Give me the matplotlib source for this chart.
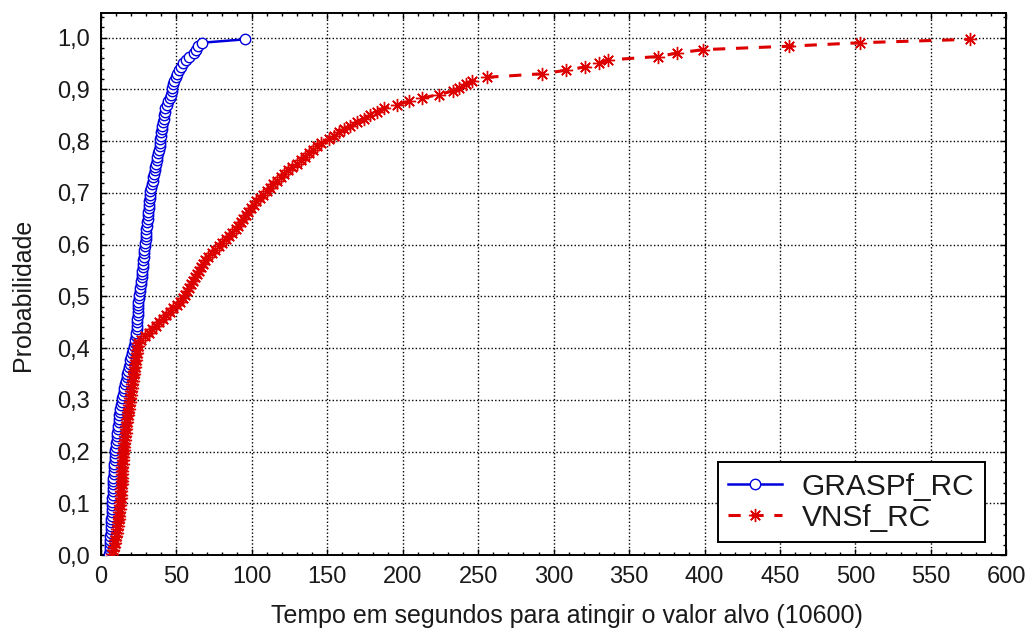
import matplotlib
matplotlib.use("Agg")
import matplotlib.pyplot as plt
import numpy as np

# ---- data (times in seconds, sorted; empirical distribution) ----
grasp_times = [
    5.5, 5.7, 5.8, 6.0, 6.1, 6.2, 6.4, 6.5, 6.6, 6.8,
    6.9, 7.0, 7.1, 7.2, 7.3, 7.4, 7.5, 7.6, 7.7, 7.8,
    7.9, 8.0, 8.2, 8.4, 8.5, 8.7, 8.9, 9.0, 9.2, 9.4,
    9.5, 9.8, 10.1, 10.3, 10.6, 10.9, 11.1, 11.4, 11.6, 11.9,
    12.0, 12.4, 12.8, 13.3, 13.7, 14.2, 14.6, 15.1, 15.5, 16.0,
    16.4, 16.9, 17.4, 17.9, 18.4, 18.9, 19.5, 20.0, 20.5, 21.0,
    21.6, 22.2, 22.7, 23.1, 23.5, 23.7, 23.8, 23.9, 24.0, 24.2,
    24.3, 24.4, 24.5, 24.6, 24.9, 25.2, 25.5, 25.9, 26.2, 26.6,
    26.9, 27.1, 27.3, 27.5, 27.7, 28.0, 28.2, 28.4, 28.7, 29.0,
    29.2, 29.5, 29.7, 29.9, 30.1, 30.4, 30.6, 30.8, 31.0, 31.3,
    31.5, 31.8, 32.0, 32.2, 32.4, 32.7, 33.2, 33.7, 34.2, 34.7,
    35.1, 35.6, 36.0, 36.5, 37.0, 37.4, 37.9, 38.3, 38.8, 39.2,
    39.4, 39.7, 39.9, 40.2, 40.4, 41.0, 41.5, 42.0, 42.3, 42.7,
    43.7, 44.6, 45.4, 46.1, 46.8, 47.3, 47.8, 48.6, 49.6, 50.5,
    51.5, 53.0, 54.5, 56.5, 58.5, 61.3, 63.0, 64.5, 66.8, 95.6,
]

vns_times = [
    7.5, 8.0, 8.5, 9.0, 9.5, 10.0, 10.4, 10.8, 11.1, 11.4,
    11.7, 11.9, 12.1, 12.3, 12.5, 12.7, 12.9, 13.1, 13.3, 13.5,
    13.7, 13.8, 13.9, 14.0, 14.1, 14.2, 14.4, 14.5, 14.7, 14.8,
    15.0, 15.3, 15.5, 15.8, 16.0, 16.3, 16.5, 16.8, 17.1, 17.4,
    17.7, 18.0, 18.3, 18.7, 19.0, 19.4, 19.7, 20.0, 20.3, 20.6,
    21.0, 21.3, 21.6, 21.9, 22.2, 22.6, 22.9, 23.3, 23.7, 24.0,
    24.3, 24.7, 26.5, 29.0, 31.5, 34.0, 36.2, 38.5, 41.0, 43.2,
    45.5, 48.0, 50.5, 52.5, 54.2, 55.5, 56.8, 58.2, 59.5, 60.8,
    62.2, 63.5, 64.8, 66.1, 67.5, 68.8, 71.0, 73.3, 75.6, 77.9,
    80.2, 82.5, 84.8, 87.1, 89.2, 90.9, 92.6, 94.3, 96.0, 97.7,
    99.4, 101.1, 103.0, 105.3, 107.5, 109.8, 112.0, 114.3, 116.6, 119.3,
    121.5, 124.2, 126.9, 129.6, 132.3, 135.0, 137.7, 140.4, 143.1, 146.0,
    151.3, 154.5, 157.8, 161.0, 165.0, 169.5, 174.0, 178.5, 183.0, 187.5,
    196.0, 204.0, 213.0, 224.0, 233.0, 237.0, 242.0, 246.0, 256.0, 292.0,
    308.0, 321.0, 330.0, 336.0, 369.0, 382.0, 399.0, 456.0, 503.0, 576.0,
]

series_labels = ["GRASPf_RC", "VNSf_RC"]
x_ticks = [0, 50, 100, 150, 200, 250, 300, 350, 400, 450, 500, 550, 600]
y_ticks = [0.0, 0.1, 0.2, 0.3, 0.4, 0.5, 0.6, 0.7, 0.8, 0.9, 1.0]
y_tick_labels = ["0,0", "0,1", "0,2", "0,3", "0,4", "0,5", "0,6", "0,7", "0,8", "0,9", "1,0"]
x_label = "Tempo em segundos para atingir o valor alvo (10600)"
y_label = "Probabilidade"


def ecdf_prob(times):
    n = len(times)
    return (np.arange(n) + 0.5) / n


plt.rcParams["font.family"] = ["Liberation Sans", "DejaVu Sans"]
txt_color = "#1a1a1a"

fig = plt.figure(figsize=(10.31, 6.36), dpi=100)
ax = fig.add_axes([0.098, 0.127, 0.878, 0.853])

ax.plot(grasp_times, ecdf_prob(grasp_times), color="#0000dd", lw=1.8,
        marker="o", markersize=7.5, markerfacecolor="white",
        markeredgecolor="#0000dd", markeredgewidth=1.0, label=series_labels[0], zorder=3)
ax.plot(vns_times, ecdf_prob(vns_times), color="#dd0000", lw=2.2,
        linestyle=(0, (4, 3.5)),
        marker=(8, 2, 0), markersize=9.5, markeredgecolor="#dd0000",
        markeredgewidth=1.0, label=series_labels[1], zorder=4)

ax.set_xlim(0, 600)
ax.set_ylim(0, 1.048)
ax.set_xticks(x_ticks)
ax.set_xticklabels([str(t) for t in x_ticks])
ax.set_yticks(y_ticks)
ax.set_yticklabels(y_tick_labels)
ax.set_xticks(np.arange(0, 601, 10), minor=True)
ax.set_yticks(np.arange(0, 1.05, 0.02), minor=True)

ax.grid(True, which="major", color="black", linestyle=(0, (1, 1.6)), lw=1.0)
ax.tick_params(which="both", direction="in", top=True, right=True, colors="black",
               labelcolor=txt_color, labelsize=17)
ax.tick_params(which="major", length=4, width=1.0, pad=8)
ax.tick_params(which="minor", length=2.5, width=1.0)
for s in ax.spines.values():
    s.set_linewidth(1.4)
    s.set_color("black")

ax.set_xlabel(x_label, fontsize=18, color=txt_color)
ax.xaxis.set_label_coords(0.515, -0.089)
ax.set_ylabel(y_label, fontsize=18, color=txt_color)
ax.yaxis.set_label_coords(-0.073, 0.48)

leg = ax.legend(loc="lower right", fontsize=21.5, frameon=True, fancybox=False,
                edgecolor="black", framealpha=1, handlelength=1.8,
                borderpad=0.35, labelspacing=0.1, handletextpad=0.65,
                borderaxespad=0, bbox_to_anchor=(0.976, 0.024))
leg.get_frame().set_linewidth(1.4)
for t in leg.get_texts():
    t.set_color(txt_color)

fig.savefig("out.png", dpi=100)
